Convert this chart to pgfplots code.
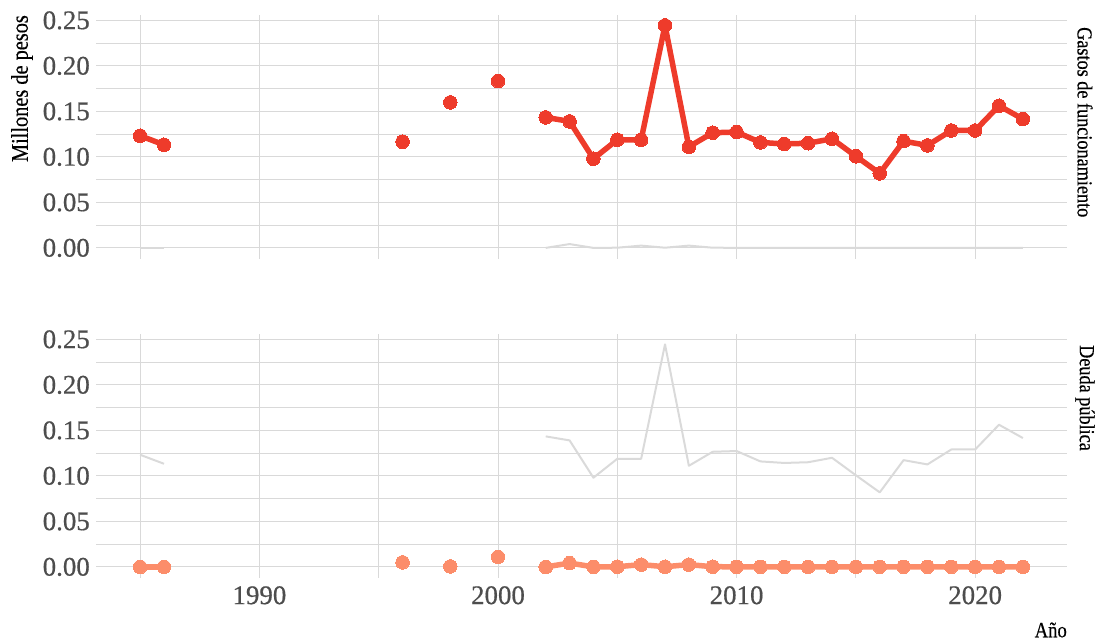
\documentclass[border=0pt]{standalone}
\usepackage{fontspec}
\setmainfont{Liberation Serif}
\newfontfamily\condfont{Liberation Serif}[FakeStretch=0.85, FakeBold=0.4]
\newfontfamily\tickfont{Liberation Serif}[FakeBold=0.6]
\usepackage{pgfplots}
\usepackage{pgfplotstable}
\pgfplotsset{compat=1.18}
\definecolor{redline}{HTML}{EE3B2B}
\definecolor{salmon}{HTML}{FC8D6A}
\definecolor{bgline}{HTML}{DADADA}
\definecolor{gridc}{HTML}{D9D9D9}
\definecolor{tickc}{HTML}{4D4D4D}

\pgfplotstableread{
year gastos deuda
1985 0.1232 0.0000
1986 0.1133 0.0000
}\segA

\pgfplotstableread{
year gastos deuda
1996 0.1166 0.0050
1998 0.1599 0.0005
2000 0.1834 0.0110
}\single

\pgfplotstableread{
year gastos deuda
2002 0.1434 0.0000
2003 0.1390 0.0042
2004 0.0980 0.0000
2005 0.1188 0.0002
2006 0.1188 0.0025
2007 0.2445 0.0002
2008 0.1111 0.0025
2009 0.1265 0.0002
2010 0.1273 0.0001
2011 0.1159 0.0001
2012 0.1142 0.0001
2013 0.1150 0.0001
2014 0.1199 0.0001
2015 0.1007 0.0001
2016 0.0819 0.0001
2017 0.1173 0.0001
2018 0.1126 0.0001
2019 0.1290 0.0001
2020 0.1290 0.0001
2021 0.1562 0.0001
2022 0.1416 0.0001
}\segB

\pgfplotsset{
  panel/.style={
    scale only axis, width=971bp, height=244bp,
    xmin=1983.15, xmax=2023.85, ymin=-0.0122, ymax=0.2559,
    axis line style={draw=none},
    major tick length=0pt, minor tick length=0pt,
    tick style={draw=none},
    xtick={1990,2000,2010,2020},
    minor xtick={1985,1995,2005,2015},
    ytick={0,0.05,0.10,0.15,0.20,0.25},
    minor ytick={0.025,0.075,0.125,0.175,0.225},
    grid=both,
    major grid style={gridc, line width=1bp},
    minor grid style={gridc, line width=1bp},
    /pgf/number format/assume math mode=true,
    yticklabel style={/pgf/number format/fixed, /pgf/number format/fixed zerofill, /pgf/number format/precision=2,
      font=\tickfont\fontsize{27}{27}\selectfont, text=tickc, inner sep=0pt, anchor=east, xshift=-6bp},
    xticklabel style={/pgf/number format/1000 sep={}, font=\tickfont\fontsize{27}{27}\selectfont, text=tickc, inner sep=0pt, anchor=north, yshift=-8bp},
    scaled y ticks=false,
  },
  bg/.style={bgline, line width=2bp, mark=none, line join=round},
  fg/.style={color=#1, line width=5.5bp, line join=round, mark=*, mark size=6.8bp,
    mark options={draw=#1, fill=#1, line width=0pt}},
  pts/.style={color=#1, only marks, mark=*, mark size=6.8bp, mark options={draw=#1, line width=0pt, fill=#1}},
}

\begin{document}
\begin{tikzpicture}
\path[use as bounding box] (0,0) rectangle (1097bp,641bp);

% Top panel: Gastos de funcionamiento
\begin{axis}[panel, at={(96bp,382bp)}, anchor=south west, xticklabels={}]
  \addplot[bg] table[x=year, y=deuda] {\segA};
  \addplot[bg] table[x=year, y=deuda] {\segB};
  \addplot[fg=redline] table[x=year, y=gastos] {\segA};
  \addplot[fg=redline] table[x=year, y=gastos] {\segB};
  \addplot[pts=redline] table[x=year, y=gastos] {\single};
\end{axis}

% Bottom panel: Deuda publica
\begin{axis}[panel, at={(96bp,63bp)}, anchor=south west]
  \addplot[bg] table[x=year, y=gastos] {\segA};
  \addplot[bg] table[x=year, y=gastos] {\segB};
  \addplot[fg=salmon] table[x=year, y=deuda] {\segA};
  \addplot[fg=salmon] table[x=year, y=deuda] {\segB};
  \addplot[pts=salmon] table[x=year, y=deuda] {\single};
\end{axis}

\node[rotate=90, anchor=east, inner sep=0pt, font=\condfont\fontsize{24}{24}\selectfont] at (22bp,626bp) {Millones de pesos};
\node[rotate=-90, anchor=west, inner sep=0pt, font=\condfont\fontsize{21.5}{21.5}\selectfont] at (1085bp,614bp) {Gastos de funcionamiento};
\node[rotate=-90, anchor=west, inner sep=0pt, font=\condfont\fontsize{21.5}{21.5}\selectfont] at (1085bp,296bp) {Deuda pública};
\node[anchor=east, inner sep=0pt, font=\condfont\fontsize{22}{22}\selectfont] at (1067bp,11bp) {Año};
\end{tikzpicture}
\end{document}
